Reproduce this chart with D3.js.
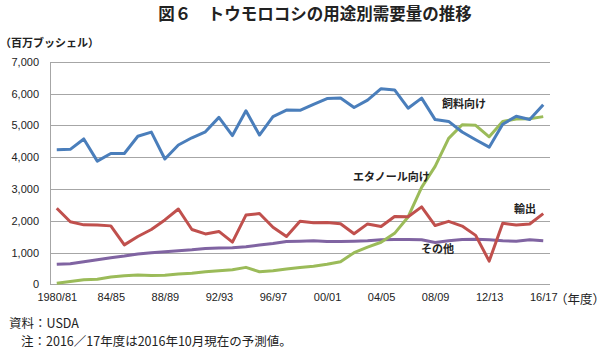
<!DOCTYPE html>
<html><head><meta charset="utf-8">
<script src="https://cdn.jsdelivr.net/npm/d3@7"></script>
<style>
body{margin:0;background:#fff;}
text{font-family:"Liberation Sans","Noto Sans CJK JP",sans-serif;}
.jp{font-family:"Noto Sans CJK JP",sans-serif;}
</style></head>
<body><svg id="c" width="604" height="349"></svg>
<script>
const years = ["1980/81","81/82","82/83","83/84","84/85","85/86","86/87","87/88","88/89","89/90","90/91","91/92","92/93","93/94","94/95","95/96","96/97","97/98","98/99","99/00","00/01","01/02","02/03","03/04","04/05","05/06","06/07","07/08","08/09","09/10","10/11","11/12","12/13","13/14","14/15","15/16","16/17"];
const tickLabels = ["1980/81","84/85","88/89","92/93","96/97","00/01","04/05","08/09","12/13","16/17"];
const yTicks = [0,1000,2000,3000,4000,5000,6000,7000];
const feed = [4232,4245,4573,3876,4115,4114,4659,4789,3941,4382,4609,4798,5252,4680,5460,4696,5277,5482,5472,5664,5842,5864,5563,5795,6155,6115,5540,5858,5182,5125,4793,4548,4315,5036,5287,5183,5650];
const ethanol = [35,86,140,160,232,271,290,279,287,321,349,398,426,458,533,396,429,481,526,566,628,707,996,1168,1323,1603,2119,3049,3709,4591,5019,5000,4641,5124,5200,5206,5275];
const exportsV = [2391,1967,1870,1865,1838,1241,1504,1725,2026,2368,1725,1584,1663,1328,2177,2228,1797,1504,1981,1937,1941,1905,1588,1900,1818,2134,2125,2437,1849,1980,1831,1539,730,1921,1867,1898,2225];
const other = [627,648,711,773,836,888,951,993,1024,1055,1087,1129,1139,1149,1181,1233,1285,1348,1358,1369,1348,1348,1358,1369,1400,1411,1411,1400,1317,1369,1411,1421,1400,1369,1358,1400,1369];
const seriesNames = ["飼料向け","エタノール向け","輸出","その他"];
const colors = ["#4a7ebb","#9bbb59","#c0504d","#8064a2"];

const svg = d3.select("#c");
const x = d3.scalePoint().domain(years).range([56.76, 543.24]);
const y = d3.scaleLinear().domain([0,7000]).range([284.3, 61.8]);

// title
svg.append("text").attr("class","jp").attr("x",315).attr("y",19.5).attr("text-anchor","middle")
  .attr("font-size",16.5).attr("font-weight","bold").attr("fill","#222").text("図６　トウモロコシの用途別需要量の推移");
svg.append("text").attr("class","jp").attr("x",0).attr("y",47).attr("font-size",11).attr("font-weight","bold")
  .attr("fill","#222").text("（百万ブッシェル）");

// gridlines
svg.append("g").selectAll("line").data(yTicks).join("line")
  .attr("x1",50).attr("x2",550).attr("y1",d=>Math.round(y(d))+0.5).attr("y2",d=>Math.round(y(d))+0.5)
  .attr("stroke","#a6a6a6").attr("stroke-width",1);
svg.append("line").attr("x1",50.5).attr("x2",50.5).attr("y1",Math.round(y(7000))).attr("y2",Math.round(y(0))+1)
  .attr("stroke","#a6a6a6");

// y axis labels
const yAxis = d3.axisLeft(y).tickValues(yTicks).tickFormat(d3.format(",")).tickSize(0).tickPadding(0);
const ya = svg.append("g").attr("transform","translate(39,0)").call(yAxis);
ya.select(".domain").remove();
ya.selectAll("text").attr("font-size",11).attr("fill","#222").style("font-family","Liberation Sans, sans-serif");

// x axis labels
const xAxis = d3.axisBottom(x).tickValues(tickLabels).tickSize(0).tickPadding(0);
const xa = svg.append("g").attr("transform","translate(0,293)").call(xAxis);
xa.select(".domain").remove();
xa.selectAll("text").attr("font-size",11).attr("fill","#222").style("font-family","Liberation Sans, sans-serif");
svg.append("text").attr("class","jp").attr("x",555).attr("y",303.5).attr("font-size",12.5).attr("fill","#222").text("（年度）");

// lines
const line = d3.line().x((d,i)=>x(years[i])).y(d=>y(d));
const data = [other, ethanol, exportsV, feed];
const cols = [colors[3], colors[1], colors[2], colors[0]];
svg.append("g").selectAll("path").data(data).join("path")
  .attr("d",line).attr("fill","none").attr("stroke",(d,i)=>cols[i])
  .attr("stroke-width",3).attr("stroke-linejoin","round");

// series labels
const lab = [
  {t:seriesNames[0], x:442, y:108},
  {t:seriesNames[1], x:353, y:180.5},
  {t:seriesNames[2], x:514, y:213},
  {t:seriesNames[3], x:421, y:252.5}
];
svg.append("g").selectAll("text").data(lab).join("text").attr("class","jp")
  .attr("x",d=>d.x).attr("y",d=>d.y).attr("font-size",11).attr("font-weight","bold").attr("fill","#222").text(d=>d.t);

// footer
svg.append("text").attr("class","jp").attr("x",9).attr("y",327.5).attr("font-size",12.5).attr("fill","#222").text("資料：USDA");
svg.append("text").attr("class","jp").attr("x",21).attr("y",346).attr("font-size",12.5).attr("fill","#222").text("注：2016／17年度は2016年10月現在の予測値。");
</script></body></html>
